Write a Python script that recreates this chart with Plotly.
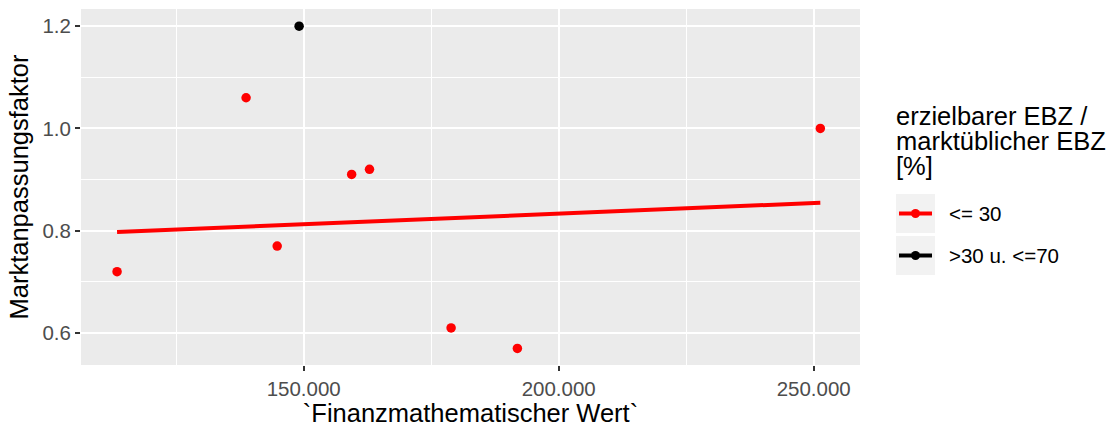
import numpy as np
import plotly.graph_objects as go

# Finanzmathematischer Wert vs. Marktanpassungsfaktor, grouped by EBZ ratio class
fin_wert = [113400, 138700, 144800, 159400, 162900, 178900, 191900, 251300, 149100]
marktfaktor = [0.72, 1.06, 0.77, 0.91, 0.92, 0.61, 0.57, 1.00, 1.20]
ebz_klasse = ["<= 30", "<= 30", "<= 30", "<= 30", "<= 30", "<= 30", "<= 30", "<= 30",
              ">30 u. <=70"]

klassen = ["<= 30", ">30 u. <=70"]
farben = {"<= 30": "#FF0000", ">30 u. <=70": "#000000"}

x_ticks = [150000, 200000, 250000]
x_ticktext = ["150.000", "200.000", "250.000"]
x_minor = [125000, 175000, 225000]
y_ticks = [0.6, 0.8, 1.0, 1.2]
y_ticktext = ["0.6", "0.8", "1.0", "1.2"]
y_minor = [0.7, 0.9, 1.1]

legend_title = ["erzielbarer EBZ /", "marktüblicher EBZ", "[%]"]

W, H = 1119, 427
M_L, M_R, M_T, M_B = 81, 259, 9, 62
PW, PH = W - M_L - M_R, H - M_T - M_B

FONT = "Liberation Sans, Arial, sans-serif"
TITLE_SIZE = 25.5
TITLE_LINE_GAP = 25  # px between legend title baselines

fig = go.Figure()

x_arr = np.array(fin_wert, dtype=float)
y_arr = np.array(marktfaktor, dtype=float)
g_arr = np.array(ebz_klasse)

# linear fit per group (only groups with at least two points get a line)
for k in klassen:
    m = g_arr == k
    if m.sum() >= 2:
        slope, icpt = np.polyfit(x_arr[m], y_arr[m], 1)
        xs = np.array([x_arr[m].min(), x_arr[m].max()])
        fig.add_trace(go.Scatter(x=xs, y=slope * xs + icpt, mode="lines",
                                 line=dict(color=farben[k], width=4),
                                 showlegend=False, hoverinfo="skip"))

for k in klassen:
    m = g_arr == k
    fig.add_trace(go.Scatter(x=x_arr[m], y=y_arr[m], mode="markers", name=k,
                             marker=dict(color=farben[k], size=9.5, line=dict(width=0)),
                             showlegend=False))


def px_x(px):
    return (px - M_L) / PW


def px_y(py):
    return (H - M_B - py) / PH


shapes = []
annotations = []

# legend title: one multi-line annotation; the base font size sets the line
# spacing (1.3 em), the inner spans carry the visible glyph size
title_html = "<br>".join(
    f'<span style="font-size:{TITLE_SIZE}px">{line}</span>' for line in legend_title)
annotations.append(dict(text=title_html, xref="paper", yref="paper",
                        x=px_x(894), y=px_y(141),
                        xanchor="left", yanchor="middle", align="left", showarrow=False,
                        font=dict(family=FONT, size=TITLE_LINE_GAP / 1.3, color="#000000")))

# legend keys
for i, k in enumerate(klassen):
    top = 194 + 42 * i
    bot = top + 39
    cy = (top + bot) / 2
    shapes.append(dict(type="rect", xref="paper", yref="paper",
                       x0=px_x(896), x1=px_x(935), y0=px_y(bot), y1=px_y(top),
                       fillcolor="#F2F2F2", line=dict(width=0), layer="above"))
    shapes.append(dict(type="line", xref="paper", yref="paper",
                       x0=px_x(899), x1=px_x(932), y0=px_y(cy), y1=px_y(cy),
                       line=dict(color=farben[k], width=4), layer="above"))
    shapes.append(dict(type="circle", xref="paper", yref="paper",
                       x0=px_x(911), x1=px_x(920), y0=px_y(cy + 4.5), y1=px_y(cy - 4.5),
                       fillcolor=farben[k], line=dict(width=0), layer="above"))
    annotations.append(dict(text=k, xref="paper", yref="paper",
                            x=px_x(947), y=px_y(cy),
                            xanchor="left", yanchor="middle", showarrow=False,
                            font=dict(family=FONT, size=20.5, color="#000000")))

fig.update_layout(
    width=W, height=H,
    margin=dict(l=M_L, r=M_R, t=M_T, b=M_B, pad=0, autoexpand=False),
    paper_bgcolor="#FFFFFF",
    plot_bgcolor="#EBEBEB",
    font=dict(family=FONT, color="#000000"),
    showlegend=False,
    shapes=shapes,
    annotations=annotations,
)

fig.update_xaxes(
    range=[106330, 259080], automargin=False,
    tickmode="array", tickvals=x_ticks, ticktext=x_ticktext,
    ticks="outside", ticklen=5, tickwidth=1.5, tickcolor="#333333",
    tickfont=dict(family=FONT, size=20.5, color="#4D4D4D"),
    showgrid=True, gridcolor="#FFFFFF", gridwidth=1.6,
    minor=dict(tickmode="array", tickvals=x_minor, showgrid=True,
               gridcolor="#FFFFFF", gridwidth=0.8, ticks=""),
    zeroline=False, showline=False,
    title=dict(text="`Finanzmathematischer Wert`",
               font=dict(family=FONT, size=25.5, color="#000000"), standoff=6),
)

fig.update_yaxes(
    range=[0.5375, 1.2335], automargin=False,
    tickmode="array", tickvals=y_ticks, ticktext=y_ticktext,
    ticks="outside", ticklen=5, tickwidth=1.5, tickcolor="#333333",
    tickfont=dict(family=FONT, size=20.5, color="#4D4D4D"),
    showgrid=True, gridcolor="#FFFFFF", gridwidth=1.6,
    minor=dict(tickmode="array", tickvals=y_minor, showgrid=True,
               gridcolor="#FFFFFF", gridwidth=0.8, ticks=""),
    zeroline=False, showline=False,
    title=dict(text="Marktanpassungsfaktor",
               font=dict(family=FONT, size=25.5, color="#000000"), standoff=6),
)

fig.write_html("out.html")
